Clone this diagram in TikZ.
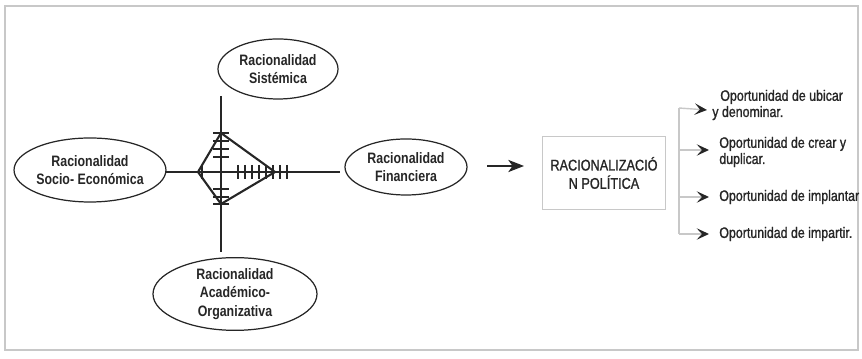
\documentclass[tikz,border=0pt]{standalone}
\usepackage{fontspec}
\setmainfont{Liberation Sans}[FakeStretch=0.82]
\newfontfamily\medio{Liberation Sans}[FakeStretch=0.82, FakeBold=1.2]
\usetikzlibrary{shapes.geometric,arrows.meta}
\definecolor{tinta}{HTML}{262626}
\definecolor{marco}{HTML}{C8C8C8}
\begin{document}
\begin{tikzpicture}[x=0.2mm, y=-0.2mm,
    elip/.style = {draw=tinta, line width=0.7pt, ellipse, inner sep=0pt,
                   align=center, text=tinta, font=\fontsize{8.6}{10.4}\selectfont\bfseries},
    caja/.style = {draw=marco, line width=0.5pt, rectangle, inner sep=0pt, align=center,
                   text=tinta, font=\fontsize{8.8}{10.4}\selectfont\medio},
    opcion/.style = {anchor=west, align=left, inner sep=0pt, text=tinta,
                     font=\fontsize{8.6}{9.2}\selectfont\medio},
    eje/.style = {draw=tinta, line width=0.7pt},
    rama/.style = {draw=marco, line width=0.8pt,
                   -{Stealth[length=7pt, width=6.5pt, inset=3pt, color=tinta]}}]
    \useasboundingbox (0, 0) rectangle (862, 359);
    \draw [marco, line width=0.8pt] (5, 6) rectangle (858, 350);

    % las cuatro racionalidades
    \node [elip, minimum width=120*0.2mm, minimum height=60*0.2mm] (sist) at (278, 69) {Racionalidad\\Sistémica};
    \node [elip, minimum width=130*0.2mm, minimum height=64*0.2mm] (socio) at (90, 170) {Racionalidad\\Socio- Económica};
    \node [elip, minimum width=122*0.2mm, minimum height=56*0.2mm] (finan) at (406, 167) {Racionalidad\\Financiera};
    \node [elip, minimum width=164*0.2mm, minimum height=70*0.2mm, font=\fontsize{8.6}{10.6}\selectfont\bfseries] (acad) at (235, 294) {Racionalidad\\Académico-\\Organizativa};

    % ejes
    \coordinate (ejeN) at (221, 96);
    \coordinate (ejeS) at (221, 252);
    \coordinate (ejeO) at (165, 172);
    \coordinate (ejeE) at (340, 172);
    \draw [eje] (ejeN) -- (ejeS);
    \draw [eje] (ejeO) -- (ejeE);

    % rombo
    \coordinate (kt) at (221, 133);
    \coordinate (kl) at (198, 172);
    \coordinate (kb) at (221, 204);
    \coordinate (kr) at (275, 172);
    \draw [tinta, line width=1.2pt, line join=round] (kt) -- (kr) -- (kb) -- (kl) -- cycle;
    \foreach \y in {133, 141, 149, 157, 189, 197, 204}
        \draw [eje] (213, \y) -- (229, \y);
    \foreach \x in {202, 238, 245, 252, 259, 266, 273, 280, 287}
        \draw [eje] (\x, 165) -- (\x, 179);

    % racionalizacion politica
    \node [caja, minimum width=123*0.2mm, minimum height=73*0.2mm] (polit) at (604, 173) {RACIONALIZACIÓ\\N POLÍTICA};
    \coordinate (flechaA) at (487, 166);
    \coordinate (flechaB) at (524, 166);
    \draw [tinta, line width=0.6pt, -{Stealth[length=9pt, width=7pt, inset=2.5pt]}] (flechaA) -- (flechaB);

    % oportunidades
    \node [opcion] (op1) at (712, 105) {\hspace{1.6mm}Oportunidad de ubicar\\y denominar.};
    \node [opcion] (op2) at (719, 152) {Oportunidad de crear y\\duplicar.};
    \node [opcion] (op3) at (719, 197) {Oportunidad de implantar};
    \node [opcion] (op4) at (719, 234) {Oportunidad de impartir.};
    \coordinate (llave1) at (679, 108);
    \coordinate (llave2) at (679, 150);
    \coordinate (llave3) at (679, 197);
    \coordinate (llave4) at (679, 234);
    \draw [marco, line width=0.8pt] (llave1) -- (llave4);
    \draw [rama] (llave1) -- (707, 110);
    \draw [rama] (llave2) -- (709, 150);
    \draw [rama] (llave3) -- (709, 197);
    \draw [rama] (llave4) -- (709, 234);
\end{tikzpicture}
\end{document}
